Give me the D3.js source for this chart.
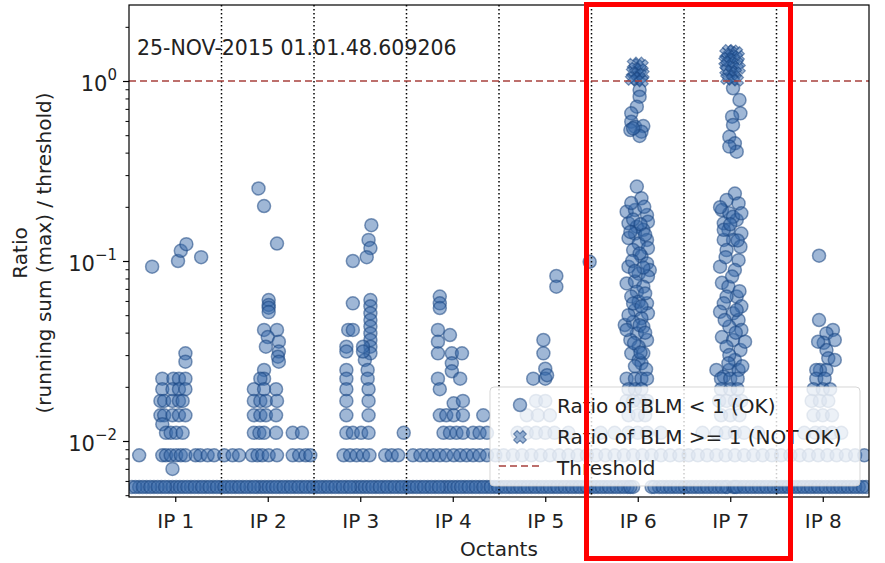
<!DOCTYPE html>
<html>
<head>
<meta charset="utf-8">
<script src="https://cdn.jsdelivr.net/npm/d3@7"></script>
<style>
  body { margin: 0; background: #fff; }
  svg { font-family: "DejaVu Sans", sans-serif; }
</style>
</head>
<body>
<div id="chart"></div>
<script>
// categories / ticks
var octants = ["IP 1", "IP 2", "IP 3", "IP 4", "IP 5", "IP 6", "IP 7", "IP 8"];
var octantPos = [1, 2, 3, 4, 5, 6, 7, 8];
var dividers = [1.5, 2.5, 3.5, 4.5, 5.5, 6.5, 7.5];
var yTickValues = [0.01, 0.1, 1];
var yTickExp = ["\u22122", "\u22121", "0"];
var threshold = 1;
var stamp = "25-NOV-2015 01.01.48.609206";
var legendLabels = ["Ratio of BLM < 1 (OK)", "Ratio of BLM >= 1 (NOT OK)", "Threshold"];

// lowest reading, seen along the whole ring
var floorRatio = 0.00556;
var floorPos = [0.53, 0.61, 0.69, 0.77, 0.85, 0.93, 0.97, 1.01, 1.05, 1.09, 1.17, 1.25, 1.33, 1.41, 1.49,
  1.57, 1.65, 1.73, 1.81, 1.89, 1.93, 1.97, 2.01, 2.05, 2.13, 2.21, 2.29, 2.37, 2.45, 2.53, 2.61, 2.69,
  2.77, 2.85, 2.93, 2.97, 3.01, 3.05, 3.09, 3.17, 3.25, 3.33, 3.41, 3.49, 3.57, 3.65, 3.73, 3.81, 3.89,
  3.93, 3.97, 4.01, 4.05, 4.13, 4.21, 4.29, 4.37, 4.45, 4.53, 4.61, 4.69, 4.77, 4.85, 4.93, 5.01, 5.09,
  5.17, 5.25, 5.33, 5.41, 5.49, 5.57, 5.65, 5.73, 5.81, 5.89, 5.95,
  6.15, 6.23, 6.31, 6.39, 6.47, 6.55, 6.63, 6.71, 6.79, 6.87, 6.95, 6.97, 7.03, 7.05, 7.11, 7.19, 7.27,
  7.35, 7.43, 7.51, 7.59, 7.67, 7.75, 7.83, 7.91, 7.99, 8.07, 8.15, 8.23, 8.31, 8.39, 8.47];
var floorPos2 = [0.57, 0.65, 0.73, 0.81, 0.89, 1.13, 1.21, 1.29, 1.37, 1.45, 1.53, 1.61, 1.69, 1.77, 1.85,
  2.09, 2.17, 2.25, 2.33, 2.41, 2.49, 2.57, 2.65, 2.73, 2.81, 2.89, 3.13, 3.21, 3.29, 3.37, 3.45, 3.53,
  3.61, 3.69, 3.77, 3.85, 4.09, 4.17, 4.25, 4.33, 4.41, 4.49, 4.57, 4.65, 4.73, 4.81, 4.89, 4.97, 5.05,
  5.13, 5.21, 5.29, 5.37, 5.45, 5.53, 5.61, 5.69, 5.77, 5.85, 5.92,
  6.18, 6.27, 6.35, 6.43, 6.51, 6.59, 6.67, 6.75, 6.83, 6.91, 7.07, 7.15, 7.23, 7.31, 7.39, 7.47, 7.55,
  7.63, 7.71, 7.79, 7.87, 7.95, 8.03, 8.11, 8.19, 8.27, 8.35, 8.43];

// [position, ratio] per octant, ratio < 1
var ip1 = [[0.75, 0.093], [1.03, 0.100], [1.06, 0.114], [1.12, 0.124], [1.28, 0.105],
  [1.11, 0.0307], [1.11, 0.0276],
  [0.86, 0.0222], [0.98, 0.0222], [1.04, 0.0222], [1.11, 0.0222],
  [0.86, 0.0194], [0.97, 0.0194], [1.04, 0.0194], [1.11, 0.0194],
  [0.84, 0.0167], [0.88, 0.0167], [0.97, 0.0167], [1.04, 0.0167], [1.08, 0.0167],
  [0.84, 0.0139], [0.88, 0.0139], [0.97, 0.0139], [1.04, 0.0139], [1.11, 0.0139], [0.86, 0.0124],
  [0.90, 0.0111], [0.95, 0.0111], [1.01, 0.0111], [1.08, 0.0111],
  [0.61, 0.00833], [0.86, 0.00833], [0.90, 0.00833], [0.95, 0.00833], [1.01, 0.00833], [1.06, 0.00833],
  [1.11, 0.00833], [1.22, 0.00833], [1.27, 0.00833], [1.35, 0.00833], [1.42, 0.00833], [0.97, 0.0070]];

var ip2 = [[1.90, 0.253], [1.96, 0.202], [2.10, 0.125],
  [2.01, 0.0607], [2.01, 0.0570], [2.01, 0.0550], [2.01, 0.0520],
  [1.96, 0.0414], [2.10, 0.0414], [2.00, 0.0378], [1.98, 0.0334],
  [2.12, 0.0356], [2.12, 0.0314], [2.11, 0.0294], [2.12, 0.0276],
  [1.96, 0.0248], [1.96, 0.0222], [1.92, 0.0222],
  [1.85, 0.0194], [1.96, 0.0194], [2.09, 0.0194],
  [1.85, 0.0167], [1.92, 0.0167], [1.98, 0.0167], [2.10, 0.0167],
  [1.85, 0.0139], [1.92, 0.0139], [1.98, 0.0139], [2.09, 0.0139],
  [1.85, 0.0111], [1.91, 0.0111], [1.96, 0.0111], [2.09, 0.0111], [2.27, 0.0111], [2.37, 0.0111],
  [1.53, 0.00833], [1.62, 0.00833], [1.69, 0.00833], [1.83, 0.00833], [1.89, 0.00833], [1.94, 0.00833],
  [2.01, 0.00833], [2.10, 0.00833], [2.27, 0.00833], [2.34, 0.00833], [2.41, 0.00833], [2.46, 0.00833]];

var ip3 = [[3.12, 0.158], [3.09, 0.131], [3.11, 0.118], [3.07, 0.105], [2.92, 0.100], [2.92, 0.0582],
  [3.11, 0.0607], [3.11, 0.0560], [3.11, 0.0512], [3.11, 0.0470], [3.11, 0.0432], [3.11, 0.0396],
  [3.11, 0.0364], [3.11, 0.0334], [3.11, 0.0307], [3.05, 0.0282], [3.03, 0.0334],
  [2.87, 0.0414], [2.92, 0.0414], [2.85, 0.0334], [2.85, 0.0314], [3.03, 0.0314],
  [2.85, 0.0248], [2.85, 0.0222], [2.85, 0.0194], [3.08, 0.0248], [3.08, 0.0222], [3.09, 0.0194], [3.09, 0.0167],
  [2.85, 0.0167], [2.85, 0.0139], [3.09, 0.0139],
  [2.85, 0.0111], [2.92, 0.0111], [3.01, 0.0111], [3.09, 0.0111], [3.47, 0.0111],
  [2.82, 0.00833], [2.89, 0.00833], [2.96, 0.00833], [3.03, 0.00833], [3.10, 0.00833], [3.27, 0.00833],
  [3.34, 0.00833], [3.41, 0.00833]];

var ip4 = [[3.86, 0.0634], [3.86, 0.0582], [3.86, 0.0548],
  [3.84, 0.0414], [3.97, 0.0388], [3.84, 0.0356], [3.84, 0.0307], [3.99, 0.0307], [4.10, 0.0307],
  [3.99, 0.0270], [3.99, 0.0244], [4.08, 0.0222], [3.84, 0.0222], [3.86, 0.0194],
  [4.01, 0.0162], [4.11, 0.0167],
  [3.86, 0.0139], [3.93, 0.0139], [4.01, 0.0139], [4.11, 0.0139], [4.33, 0.0139],
  [3.90, 0.0111], [3.97, 0.0111], [4.04, 0.0111], [4.11, 0.0111], [4.22, 0.0111], [4.29, 0.0111], [4.37, 0.0111],
  [3.57, 0.00833], [3.65, 0.00833], [3.72, 0.00833], [3.79, 0.00833], [3.86, 0.00833], [3.93, 0.00833],
  [4.01, 0.00833], [4.08, 0.00833], [4.15, 0.00833], [4.22, 0.00833], [4.29, 0.00833], [4.37, 0.00833], [4.46, 0.00833]];

var ip5 = [[5.12, 0.0826], [5.12, 0.072], [5.48, 0.099],
  [4.98, 0.0364], [4.98, 0.0307],
  [4.87, 0.0222], [5.00, 0.0252], [5.00, 0.0222], [5.02, 0.0232],
  [4.90, 0.0167], [5.00, 0.0167],
  [4.80, 0.0139], [4.92, 0.0139], [5.05, 0.0139],
  [4.70, 0.0111], [4.80, 0.0111], [4.90, 0.0111], [5.00, 0.0111], [5.10, 0.0111], [5.25, 0.0111],
  [4.55, 0.00833], [4.65, 0.00833], [4.75, 0.00833], [4.85, 0.00833], [4.95, 0.00833], [5.05, 0.00833],
  [5.15, 0.00833], [5.25, 0.00833], [5.35, 0.00833], [5.45, 0.00833]];

var ip6 = [[6.02, 0.891], [6.02, 0.818], [5.99, 0.720], [5.93, 0.661], [5.93, 0.594], [5.97, 0.557],
  [6.06, 0.562], [6.04, 0.523], [5.92, 0.534], [6.02, 0.495], [5.95, 0.546],
  [5.99, 0.259], [6.04, 0.223], [5.88, 0.188], [5.97, 0.192], [6.10, 0.180], [6.11, 0.165], [5.90, 0.162],
  [5.99, 0.155], [6.06, 0.149], [5.97, 0.142], [5.90, 0.134], [6.10, 0.131], [6.01, 0.125], [6.11, 0.118],
  [5.95, 0.115], [6.04, 0.106], [6.10, 0.097], [5.90, 0.093], [6.13, 0.089], [6.01, 0.085], [5.88, 0.075],
  [5.97, 0.077], [6.11, 0.082], [6.06, 0.072], [5.99, 0.0675], [5.93, 0.0634], [6.01, 0.0594], [6.10, 0.0582],
  [5.97, 0.0534], [6.11, 0.0512], [6.04, 0.0481], [5.86, 0.0441], [5.95, 0.0458], [6.06, 0.0432], [5.99, 0.0396],
  [5.92, 0.0364], [6.10, 0.0364], [6.01, 0.0334], [5.93, 0.0307], [6.06, 0.0307], [6.01, 0.0282], [6.04, 0.0270],
  [5.88, 0.0414], [5.93, 0.210], [6.07, 0.200], [5.95, 0.170], [6.03, 0.160], [5.92, 0.145], [6.08, 0.140],
  [6.02, 0.110], [5.94, 0.100], [6.06, 0.092], [5.97, 0.088], [6.08, 0.066], [5.95, 0.058], [6.04, 0.056],
  [5.90, 0.050], [6.02, 0.044], [6.08, 0.040], [5.96, 0.035], [6.03, 0.031], [5.97, 0.026], [6.09, 0.025],
  [5.88, 0.0222], [5.97, 0.0222], [6.04, 0.0222], [6.10, 0.0222],
  [5.90, 0.0194], [5.97, 0.0194], [6.04, 0.0194],
  [5.88, 0.0167], [5.95, 0.0167], [6.02, 0.0167], [6.10, 0.0167],
  [5.90, 0.0139], [6.00, 0.0139], [6.08, 0.0139],
  [5.60, 0.0111], [5.75, 0.0111], [5.90, 0.0111], [6.00, 0.0111], [6.10, 0.0111], [6.25, 0.0111],
  [5.55, 0.00833], [5.65, 0.00833], [5.75, 0.00833], [5.85, 0.00833], [5.95, 0.00833], [6.05, 0.00833],
  [6.15, 0.00833], [6.25, 0.00833], [6.35, 0.00833], [6.45, 0.00833]];

var ip7 = [[7.03, 0.911], [7.10, 0.784], [7.11, 0.661], [7.02, 0.634], [7.03, 0.570], [6.99, 0.490],
  [7.05, 0.451], [7.07, 0.405], [6.99, 0.432],
  [7.05, 0.237], [6.96, 0.218], [6.91, 0.192], [7.09, 0.209], [6.99, 0.184], [6.93, 0.162], [7.07, 0.169],
  [6.98, 0.149], [7.12, 0.142], [7.03, 0.131], [6.93, 0.131], [7.11, 0.120], [6.96, 0.115], [7.09, 0.101],
  [7.05, 0.0891], [6.89, 0.093], [6.91, 0.0756], [6.98, 0.072], [7.07, 0.0634], [6.96, 0.0634], [7.12, 0.0560],
  [6.93, 0.0582], [7.03, 0.0512], [6.89, 0.0522], [7.09, 0.0470], [6.99, 0.0432], [7.12, 0.0414], [6.91, 0.0378],
  [7.03, 0.0364], [6.96, 0.0334], [7.11, 0.0320], [7.05, 0.0282], [6.85, 0.0248], [6.99, 0.0248], [7.09, 0.0248],
  [6.93, 0.0228], [7.16, 0.0356], [6.99, 0.0300], [7.07, 0.0534], [6.93, 0.149], [7.03, 0.176], [7.12, 0.184],
  [6.89, 0.199], [7.00, 0.160], [7.08, 0.130], [6.95, 0.105], [7.02, 0.082], [7.10, 0.068], [6.94, 0.047],
  [7.06, 0.040], [6.98, 0.027], [7.13, 0.026],
  [6.90, 0.0222], [7.00, 0.0222], [7.08, 0.0222],
  [6.90, 0.0194], [7.00, 0.0194], [7.08, 0.0194],
  [6.88, 0.0167], [6.96, 0.0167], [7.05, 0.0167], [7.12, 0.0167],
  [6.90, 0.0139], [7.00, 0.0139], [7.10, 0.0139],
  [6.70, 0.0111], [6.85, 0.0111], [6.95, 0.0111], [7.05, 0.0111], [7.15, 0.0111], [7.30, 0.0111],
  [6.55, 0.00833], [6.65, 0.00833], [6.75, 0.00833], [6.85, 0.00833], [6.95, 0.00833], [7.05, 0.00833],
  [7.15, 0.00833], [7.25, 0.00833], [7.35, 0.00833], [7.45, 0.00833]];

var ip8 = [[7.96, 0.107], [7.96, 0.047], [8.11, 0.0414], [8.04, 0.0396], [8.13, 0.0364], [8.01, 0.0351],
  [8.04, 0.0320], [8.06, 0.0288], [8.13, 0.0282], [7.97, 0.0248], [8.04, 0.0248], [7.93, 0.0248], [7.95, 0.0356],
  [7.93, 0.0222], [8.02, 0.0222],
  [7.90, 0.0194], [8.00, 0.0194], [8.08, 0.0194],
  [7.88, 0.0167], [7.97, 0.0167], [8.06, 0.0167],
  [7.90, 0.0139], [8.00, 0.0139], [8.10, 0.0139],
  [7.80, 0.0111], [7.92, 0.0111], [8.00, 0.0111], [8.10, 0.0111], [8.20, 0.0111],
  [7.55, 0.00833], [7.65, 0.00833], [7.75, 0.00833], [7.85, 0.00833], [7.95, 0.00833], [8.05, 0.00833],
  [8.15, 0.00833], [8.25, 0.00833], [8.35, 0.00833], [8.45, 0.00833]];

// ratio >= 1
var notOk6 = [[5.95, 1.24], [6.01, 1.26], [6.05, 1.22], [5.97, 1.18], [6.03, 1.16], [5.94, 1.12], [6.00, 1.10],
  [6.06, 1.09], [5.96, 1.05], [6.02, 1.04], [5.99, 1.01], [6.05, 1.00], [5.93, 1.02]];
var notOk7 = [[6.98, 1.48], [7.03, 1.47], [7.07, 1.44], [6.95, 1.42], [7.01, 1.39], [7.09, 1.37], [6.97, 1.34],
  [7.04, 1.32], [6.94, 1.29], [7.00, 1.27], [7.08, 1.25], [6.96, 1.22], [7.03, 1.20], [7.10, 1.18], [6.95, 1.15],
  [7.01, 1.13], [7.06, 1.11], [6.98, 1.08], [7.04, 1.06], [6.96, 1.03], [7.02, 1.02], [7.08, 1.01]];

var W = 885, H = 563;
var margin = {top: 5, right: 16, bottom: 66, left: 129};
var width = W - margin.left - margin.right,
    height = H - margin.top - margin.bottom;

var fillC = "#3768aa", edgeC = "#1a4582";
var rDot = 6.5;

var svg = d3.select("#chart").append("svg")
    .attr("width", W).attr("height", H);

var g = svg.append("g")
    .attr("transform", `translate(${margin.left},${margin.top})`);

var x = d3.scaleLinear().domain([0.5, 8.5]).range([0, width]);
var y = d3.scaleLog().domain([0.004885, 2.644]).range([height, 0]);

g.append("clipPath").attr("id", "plotclip")
  .append("rect").attr("width", width).attr("height", height);

var okPoints = floorPos.concat(floorPos2).map(function(p) { return [p, floorRatio]; })
  .concat(ip1, ip2, ip3, ip4, ip5, ip6, ip7, ip8);
var notOkPoints = notOk6.concat(notOk7);

// filled "X" marker like matplotlib's
function xMarker(h, t) {
  var pts = [[t, h], [t, t], [h, t], [h, -t], [t, -t], [t, -h], [-t, -h], [-t, -t], [-h, -t], [-h, t], [-t, t], [-t, h]];
  var c = Math.SQRT1_2;
  return "M" + pts.map(function(p) {
    return [(p[0] - p[1]) * c, (p[0] + p[1]) * c].join(",");
  }).join("L") + "Z";
}

var plot = g.append("g").attr("clip-path", "url(#plotclip)");

plot.selectAll("circle.ok")
  .data(okPoints)
  .enter().append("circle")
  .attr("class", "ok")
  .attr("cx", function(d) { return x(d[0]); })
  .attr("cy", function(d) { return y(d[1]); })
  .attr("r", rDot)
  .attr("fill", fillC).attr("fill-opacity", 0.48)
  .attr("stroke", edgeC).attr("stroke-opacity", 0.55).attr("stroke-width", 1.5);

plot.selectAll("path.notok")
  .data(notOkPoints)
  .enter().append("path")
  .attr("class", "notok")
  .attr("d", xMarker(6, 2.2))
  .attr("transform", function(d) { return `translate(${x(d[0])},${y(d[1])})`; })
  .attr("fill", fillC).attr("fill-opacity", 0.48)
  .attr("stroke", edgeC).attr("stroke-opacity", 0.55).attr("stroke-width", 1.2);

// octant separators
plot.selectAll("line.div")
  .data(dividers)
  .enter().append("line")
  .attr("x1", function(d) { return x(d); }).attr("x2", function(d) { return x(d); })
  .attr("y1", 0).attr("y2", height)
  .attr("stroke", "#000").attr("stroke-width", 1.5)
  .attr("stroke-dasharray", "1.5,2.5");

// threshold
plot.append("line")
  .attr("x1", 0).attr("x2", width)
  .attr("y1", y(threshold)).attr("y2", y(threshold))
  .attr("stroke", "#a8403c").attr("stroke-width", 1.5)
  .attr("stroke-dasharray", "7,4");

// timestamp
g.append("text")
  .attr("x", 8).attr("y", 50)
  .attr("font-size", "20.5px").attr("fill", "#222")
  .text(stamp);

// x axis
var xAxis = g.append("g")
  .attr("transform", `translate(0,${height})`)
  .call(d3.axisBottom(x).tickValues(octantPos)
    .tickFormat(function(d, i) { return octants[i]; })
    .tickSize(5).tickPadding(12));
xAxis.select(".domain").remove();
xAxis.selectAll("text").attr("font-size", "20px").attr("fill", "#222")
  .attr("font-family", "DejaVu Sans");
xAxis.selectAll("line").attr("stroke-width", 1.2);

// y axis: minor ticks
var minor = y.ticks().filter(function(v) { return yTickValues.indexOf(v) < 0; });
var yMinor = g.append("g")
  .call(d3.axisLeft(y).tickValues(minor).tickSize(3.5).tickFormat(""));
yMinor.select(".domain").remove();
yMinor.selectAll("line").attr("stroke-width", 1);

var yAxis = g.append("g")
  .call(d3.axisLeft(y).tickValues(yTickValues).tickSize(6).tickPadding(6).tickFormat(""));
yAxis.select(".domain").remove();
yAxis.selectAll("line").attr("stroke-width", 1.2);
yAxis.selectAll(".tick text").each(function(d, i) {
  var t = d3.select(this)
    .attr("font-size", "21px").attr("fill", "#222")
    .attr("font-family", "DejaVu Sans")
    .attr("dy", "0.45em");
  t.append("tspan").text("10");
  t.append("tspan").attr("font-size", "15px").attr("dy", "-0.75em").text(yTickExp[i]);
});

// frame
g.append("rect")
  .attr("width", width).attr("height", height)
  .attr("fill", "none").attr("stroke", "#000").attr("stroke-width", 1.2);

// axis labels
svg.append("text")
  .attr("transform", "translate(27,253) rotate(-90)")
  .attr("text-anchor", "middle").attr("font-size", "20px").attr("fill", "#222")
  .text("Ratio");
svg.append("text")
  .attr("transform", "translate(51,253) rotate(-90)")
  .attr("text-anchor", "middle").attr("font-size", "20px").attr("fill", "#222")
  .text("(running sum (max) / threshold)");
svg.append("text")
  .attr("x", margin.left + width / 2).attr("y", 556)
  .attr("text-anchor", "middle").attr("font-size", "20px").attr("fill", "#222")
  .text("Octants");

// legend
var lg = svg.append("g").attr("transform", "translate(490,387)");
lg.append("rect")
  .attr("width", 370).attr("height", 99).attr("rx", 4)
  .attr("fill", "#fff").attr("fill-opacity", 0.8)
  .attr("stroke", "#ccc").attr("stroke-opacity", 0.8);
lg.append("circle").attr("cx", 30).attr("cy", 18).attr("r", rDot)
  .attr("fill", fillC).attr("fill-opacity", 0.48)
  .attr("stroke", edgeC).attr("stroke-opacity", 0.55).attr("stroke-width", 1.5);
lg.append("path").attr("d", xMarker(6.5, 2.4))
  .attr("transform", "translate(30,50)")
  .attr("fill", fillC).attr("fill-opacity", 0.48)
  .attr("stroke", edgeC).attr("stroke-opacity", 0.55).attr("stroke-width", 1.2);
lg.append("line").attr("x1", 9).attr("x2", 51).attr("y1", 79).attr("y2", 79)
  .attr("stroke", "#a8403c").attr("stroke-width", 1.5).attr("stroke-dasharray", "7,4");
lg.selectAll("text.lab")
  .data(legendLabels)
  .enter().append("text")
  .attr("x", 67).attr("y", function(d, i) { return 26 + i * 31; })
  .attr("font-size", "20px").attr("fill", "#222")
  .text(function(d) { return d; });

// highlight box around IP 6 / IP 7
svg.append("rect")
  .attr("x", 586.5).attr("y", 4.5).attr("width", 204).attr("height", 554)
  .attr("fill", "none").attr("stroke", "#f00").attr("stroke-width", 5);
</script>
</body>
</html>
